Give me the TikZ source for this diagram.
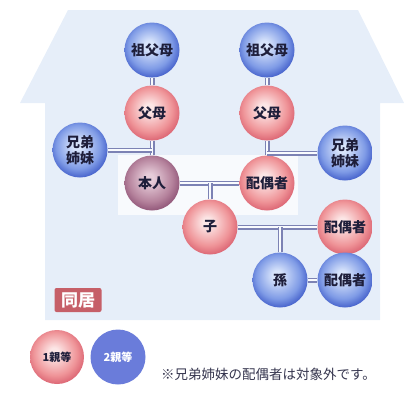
\documentclass[tikz,border=0pt]{standalone}
\usepackage{fontspec}
\newfontfamily\jp{Noto Sans CJK JP}
\definecolor{housebg}{HTML}{E6EEF9}
\definecolor{ink}{HTML}{1E1E3A}
\definecolor{linkcol}{HTML}{7C82B4}
\definecolor{pkhi}{HTML}{FCE6E6}
\definecolor{pkmid}{HTML}{EF9498}
\definecolor{pkedge}{HTML}{D85C6C}
\definecolor{bluhi}{HTML}{D8E4FB}
\definecolor{blumid}{HTML}{7F9BE6}
\definecolor{bluedge}{HTML}{3A56C6}
\definecolor{mvhi}{HTML}{E6CCD9}
\definecolor{mvmid}{HTML}{B5829C}
\definecolor{mvedge}{HTML}{8A4E72}
\definecolor{flatblue}{HTML}{6A7CDA}
\definecolor{dokyo}{HTML}{C65F68}
\pgfdeclareradialshading{pinkball}{\pgfqpoint{-3bp}{5bp}}{color(0bp)=(pkhi); color(4bp)=(pkhi); color(20bp)=(pkmid); color(29bp)=(pkedge); color(50bp)=(pkedge)}
\pgfdeclareradialshading{blueball}{\pgfqpoint{-3bp}{5bp}}{color(0bp)=(bluhi); color(4bp)=(bluhi); color(20bp)=(blumid); color(29bp)=(bluedge); color(50bp)=(bluedge)}
\pgfdeclareradialshading{mauveball}{\pgfqpoint{-3bp}{5bp}}{color(0bp)=(mvhi); color(4bp)=(mvhi); color(20bp)=(mvmid); color(29bp)=(mvedge); color(50bp)=(mvedge)}
\begin{document}
\begin{tikzpicture}[x=1pt, y=-1pt]
\useasboundingbox (0,0) rectangle (404,394);
% house and the white band
\fill[housebg] (20,103) -- (68,10) -- (358,10) -- (404,103) -- (380,103) -- (380,320) -- (45,320) -- (45,103) -- cycle;
\fill[white!70!housebg] (118,155) rectangle (298,215);

\tikzset{every node/.style={circle, minimum size=55pt, inner sep=0pt, align=center, text=ink, font=\jp\bfseries\fontsize{14}{15.5}\selectfont}}
\node[shading=blueball] (gpL) at (152,50) {祖父母};
\node[shading=blueball] (gpR) at (267,50) {祖父母};
\node[shading=pinkball] (pL) at (152,113) {父母};
\node[shading=pinkball] (pR) at (267,113) {父母};
\node[shading=blueball] (sibL) at (80,150) {兄弟\\姉妹};
\node[shading=blueball] (sibR) at (345,153) {兄弟\\姉妹};
\node[shading=mauveball] (me) at (152,183) {本人};
\node[shading=pinkball] (sp) at (267,183) {配偶者};
\node[shading=pinkball] (ko) at (210,227) {子};
\node[shading=pinkball] (kosp) at (345,227) {配偶者};
\node[shading=blueball] (mago) at (280,280) {孫};
\node[shading=blueball] (magosp) at (345,280) {配偶者};

\coordinate (jL) at (152,150);
\coordinate (jR) at (267,153);
\coordinate (jK) at (210,183);
\coordinate (jM) at (280,227);

\tikzset{every node/.style={}};
\tikzset{linkstyle/.style={draw=linkcol, line width=1.5pt, double=white!75!housebg, double distance=2pt}};
\path (gpL) edge [linkstyle] (pL);
\path (pL) edge [linkstyle] (me);
\path (sibL) edge [linkstyle] (jL);
\path (gpR) edge [linkstyle] (pR);
\path (pR) edge [linkstyle] (sp);
\path (sibR) edge [linkstyle] (jR);
\path (me) edge [linkstyle] (sp);
\path (jK) edge [linkstyle] (ko);
\path (ko) edge [linkstyle] (kosp);
\path (jM) edge [linkstyle] (mago);
\path (mago) edge [linkstyle] (magosp);

% label and legend
\node[fill=dokyo, rounded corners=2pt, text=white, minimum width=47pt, minimum height=24pt, inner sep=0pt, font=\jp\bfseries\fontsize{17}{17}\selectfont] (dk) at (78,300) {同居};
\node[circle, shading=pinkball, minimum size=54pt, inner sep=0pt, text=ink, font=\jp\bfseries\fontsize{11}{13}\selectfont] (lg1) at (57,357) {1親等};
\node[circle, fill=flatblue, minimum size=55pt, inner sep=0pt, text=white, font=\jp\bfseries\fontsize{11}{13}\selectfont] (lg2) at (118,357) {2親等};
\node[anchor=west, text=ink!90, font=\jp\fontsize{13.5}{15}\selectfont, inner sep=0pt] (note) at (161,374) {※兄弟姉妹の配偶者は対象外です。};
\end{tikzpicture}
\end{document}
